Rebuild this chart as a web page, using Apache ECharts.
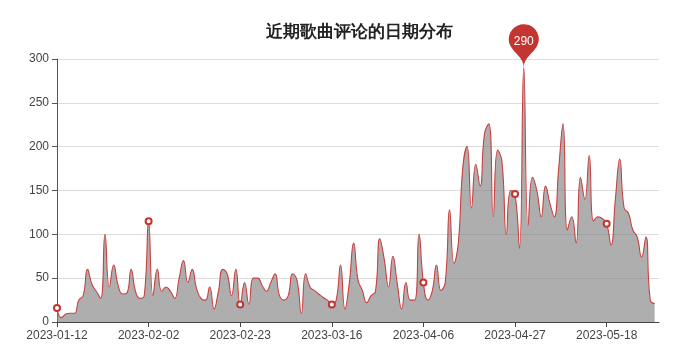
<!DOCTYPE html>
<html>
<head>
<meta charset="utf-8">
<script src="https://cdn.jsdelivr.net/npm/echarts@6/dist/echarts.min.js"></script>
<style>
html,body{margin:0;padding:0;background:#fff;}
#chart{width:692px;height:359px;}
</style>
</head>
<body>
<div id="chart"></div>
<script>
var titleText = '近期歌曲评论的日期分布';
var startDate = '2023-01-12';
var dayCount = 139;
var yTicks = [0, 50, 100, 150, 200, 250, 300];
var counts = [
  16, 5, 9, 10, 10, 25, 30, 60, 43, 35, 27, 100, 40, 65, 42, 32, 33, 60, 35, 27, 30,
  115, 30, 60, 35, 40, 35, 27, 50, 70, 45, 60, 38, 27, 25, 40, 15, 35, 60, 55, 30, 60,
  20, 45, 20, 50, 50, 42, 35, 45, 55, 30, 25, 30, 55, 48, 10, 55, 40, 36, 32, 28, 25,
  20, 25, 65, 15, 44, 90, 48, 36, 22, 30, 35, 95, 72, 40, 75, 44, 15, 45, 25, 25, 100,
  45, 25, 35, 65, 36, 45, 128, 67, 90, 175, 200, 130, 180, 155, 215, 226, 120, 196, 183, 100, 150,
  146, 84, 290, 110, 165, 150, 120, 155, 135, 120, 175, 226, 105, 120, 90, 165, 140, 190, 115, 120, 118,
  112, 88, 140, 186, 130, 124, 105, 97, 74, 97, 25, 21
];
var dates = [];
(function () {
  var d = new Date(startDate + 'T00:00:00Z');
  for (var i = 0; i < dayCount; i++) {
    var t = new Date(d.getTime() + i * 86400000);
    var m = ('0' + (t.getUTCMonth() + 1)).slice(-2);
    var dd = ('0' + t.getUTCDate()).slice(-2);
    dates.push(t.getUTCFullYear() + '-' + m + '-' + dd);
  }
})();

var chart = echarts.init(document.getElementById('chart'));
chart.setOption({
  animation: false,
  title: {
    text: titleText,
    left: 261,
    top: 19,
    textStyle: { fontSize: 17, fontWeight: 'bold', color: '#222' }
  },
  grid: { left: 57, right: 33, top: 59, bottom: 37 },
  xAxis: {
    type: 'category',
    data: dates,
    boundaryGap: false,
    axisLine: { lineStyle: { color: '#444' } },
    axisTick: { interval: 20, lineStyle: { color: '#444' } },
    axisLabel: { interval: 20, color: '#444', fontSize: 12 }
  },
  yAxis: {
    type: 'value',
    min: yTicks[0],
    max: yTicks[yTicks.length - 1],
    interval: 50,
    axisLine: { show: true, lineStyle: { color: '#555' } },
    axisTick: { show: true, lineStyle: { color: '#555' } },
    axisLabel: { color: '#444', fontSize: 12 },
    splitLine: { lineStyle: { color: '#ddd' } }
  },
  series: [{
    type: 'line',
    data: counts,
    smooth: true,
    symbol: 'emptyCircle',
    symbolSize: 6,
    itemStyle: { color: '#c23531', borderWidth: 1 },
    lineStyle: { width: 1.1, color: '#c94040' },
    areaStyle: { color: '#808080', opacity: 0.64 },
    markPoint: {
      data: [{ type: 'max', name: '最大值' }],
      itemStyle: { color: '#c23531', borderWidth: 0 },
      label: { color: '#fff', fontSize: 12 }
    }
  }]
});
</script>
</body>
</html>
